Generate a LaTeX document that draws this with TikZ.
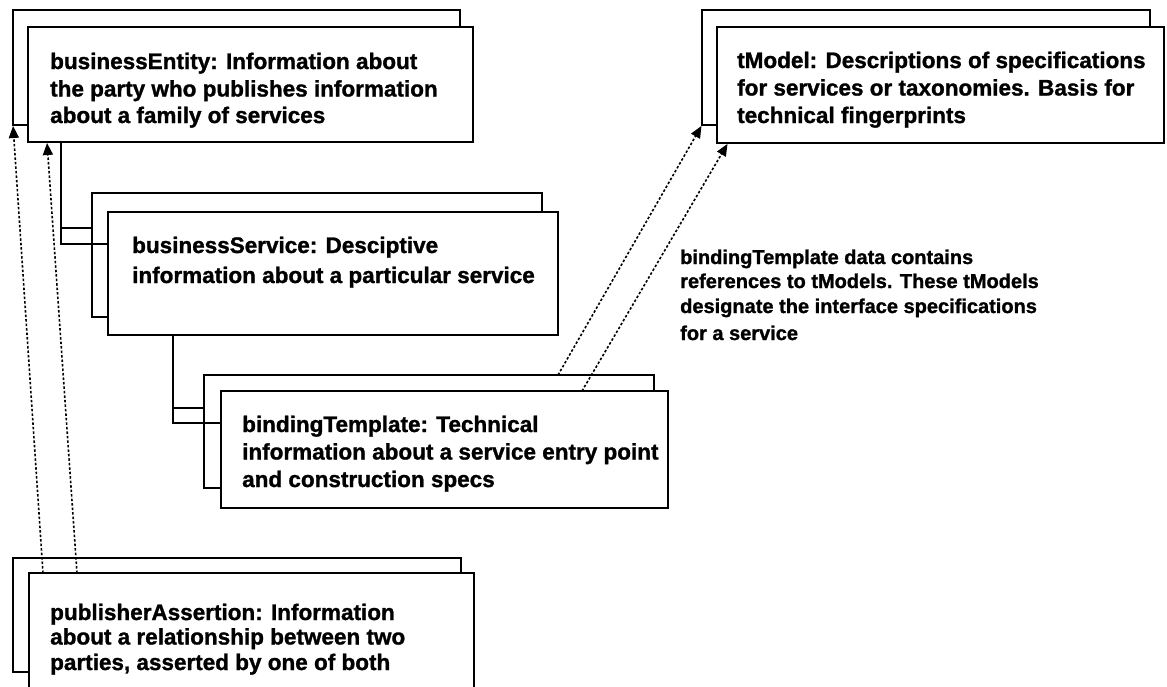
\documentclass[tikz,border=0pt]{standalone}
\usepackage{fontspec}
\setmainfont{Liberation Sans}[BoldFeatures={FakeBold=1.2}]
\usetikzlibrary{calc,arrows.meta}
\begin{document}
\begin{tikzpicture}[x=1pt,y=-1pt,
  ubox/.style={draw,line width=1.6pt,fill=white,anchor=north west,inner sep=0pt,outer sep=0pt},
  boxtext/.style={anchor=base west,inner sep=0pt,align=left,font=\fontsize{22.5}{27.5}\selectfont\bfseries},
  notetext/.style={anchor=base west,inner sep=0pt,align=left,font=\fontsize{20}{25}\selectfont\bfseries},
  tree/.style={line width=1.6pt},
  ref/.style={line width=1.6pt,dash pattern=on 2.5pt off 2pt,shorten >=1pt,
              -{Triangle[length=12pt,width=10pt]}}
]
\useasboundingbox (0,0) rectangle (1167,686);
\clip (0,0) rectangle (1167,686);

% businessEntity
\node[ubox,minimum width=447pt,minimum height=115pt] (beB) at (13,10) {};
\node[ubox,minimum width=445pt,minimum height=115pt] (beF) at (28,27) {};
\node[boxtext] (beT) at (50,123) {businessEntity: Information about\\the party who publishes information\\[-1pt]about a family of services};

% tModel
\node[ubox,minimum width=448pt,minimum height=115pt] (tmB) at (702,10) {};
\node[ubox,minimum width=447pt,minimum height=116pt] (tmF) at (717,27) {};
\node[boxtext] (tmT) at (737,123) {tModel: Descriptions of specifications\\for services or taxonomies. Basis for\\technical fingerprints};

% businessService
\node[ubox,minimum width=450pt,minimum height=124pt] (bsB) at (92,193) {};
\node[ubox,minimum width=450pt,minimum height=123pt] (bsF) at (108,212) {};
\node[boxtext] (bsT) at (132,283) {businessService: Desciptive\\[2.5pt]information about a particular service};

% bindingTemplate
\node[ubox,minimum width=450pt,minimum height=113pt] (btB) at (204,375) {};
\node[ubox,minimum width=447pt,minimum height=117pt] (btF) at (221,391) {};
\node[boxtext] (btT) at (242,487) {bindingTemplate: Technical\\information about a service entry point\\and construction specs};

% publisherAssertion
\node[ubox,minimum width=448pt,minimum height=114pt] (paB) at (13,558) {};
\node[ubox,minimum width=445pt,minimum height=117pt] (paF) at (29,573) {};
\node[boxtext] (paT) at (50,670) {publisherAssertion: Information\\[-3pt]about a relationship between two\\[-2pt]parties, asserted by one of both};

% annotation
\node[notetext] (note) at (680,340) {bindingTemplate data contains\\[-1pt]references to tModels. These tModels\\designate the interface specifications\\[2pt]for a service};

% containment connectors
\coordinate (beJ) at ($(beF.south west)+(33,0)$);
\draw[tree] (beJ) |- ($(bsF.north west)+(0,32)$);
\draw[tree] ($(beJ)+(0,86)$) -- ($(bsB.north west)+(0,35)$);
\coordinate (bsJ) at ($(bsF.south west)+(65,0)$);
\draw[tree] (bsJ) |- ($(btF.north west)+(0,32)$);
\draw[tree] ($(bsJ)+(0,73)$) -- ($(btB.north west)+(0,33)$);

% reference arrows
\draw[ref] ($(paF.north west)+(14,0)$) -- (beB.south west);
\draw[ref] ($(paF.north west)+(48,0)$) -- ($(beF.south west)+(19,0)$);
\draw[ref] ($(btB.north west)+(354,0)$) -- (tmB.south west);
\draw[ref] ($(btF.north west)+(361,0)$) -- ($(tmF.south west)+(11,0)$);
\end{tikzpicture}
\end{document}
